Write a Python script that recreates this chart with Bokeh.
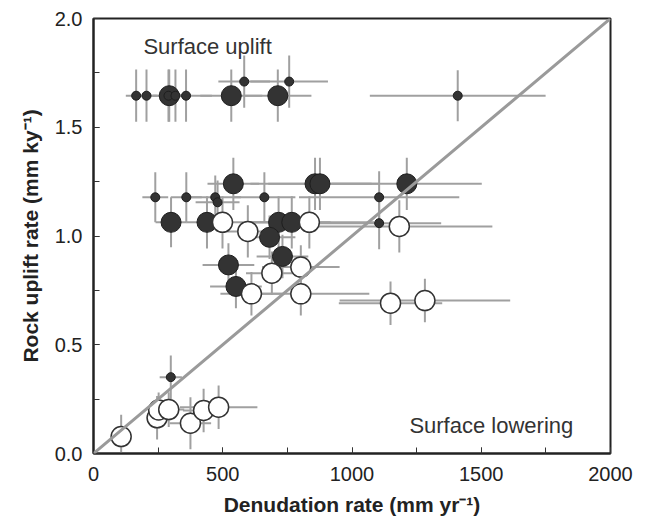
from bokeh.plotting import figure
from bokeh.models import ColumnDataSource, SingleIntervalTicker, Range1d, Label, Slope, PrintfTickFormatter
from bokeh.embed import file_html
from bokeh.resources import INLINE

# ---- data ----
# small dark points
small_x    = [165, 205, 290, 317, 358, 583, 757, 1409, 239, 359, 471, 480, 661, 1105, 1105, 299]
small_y    = [1.645, 1.645, 1.645, 1.645, 1.645, 1.71, 1.71, 1.645, 1.178, 1.178, 1.178, 1.155, 1.178, 1.178, 1.059, 0.351]
small_xerr = [40, 40, 60, 60, 100, 100, 150, 340, 50, 60, 100, 85, 120, 310, 240, 43]
small_yerr = [0.12, 0.12, 0.12, 0.12, 0.12, 0.12, 0.12, 0.117, 0.115, 0.115, 0.1, 0.1, 0.115, 0.12, 0.12, 0.1]

# large dark points
large_x    = [293, 533, 713, 541, 857, 876, 1212, 300, 439, 716, 767, 681, 522, 731, 551]
large_y    = [1.645, 1.645, 1.645, 1.24, 1.24, 1.24, 1.24, 1.063, 1.063, 1.063, 1.063, 0.994, 0.867, 0.906, 0.768]
large_xerr = [80, 120, 130, 100, 250, 200, 290, 60, 80, 120, 150, 100, 100, 100, 100]
large_yerr = [0.12, 0.12, 0.12, 0.12, 0.12, 0.12, 0.12, 0.115, 0.12, 0.12, 0.12, 0.1, 0.1, 0.1, 0.1]

# open points
open_x    = [499, 597, 835, 1183, 690, 802, 611, 802, 1149, 1282, 107, 246, 252, 291, 375, 426, 484]
open_y    = [1.063, 1.021, 1.063, 1.044, 0.829, 0.857, 0.734, 0.734, 0.691, 0.703, 0.078, 0.164, 0.2, 0.202, 0.139, 0.198, 0.213]
open_xerr = [80, 100, 250, 360, 100, 150, 120, 265, 200, 330, 40, 40, 40, 60, 80, 80, 150]
open_yerr = [0.12, 0.12, 0.12, 0.12, 0.1, 0.1, 0.1, 0.1, 0.1, 0.1, 0.1, 0.1, 0.08, 0.08, 0.12, 0.1, 0.1]

x_ticks_interval = 500
y_ticks_interval = 0.5

p = figure(width=648, height=526, output_backend="svg", toolbar_location=None,
           x_range=Range1d(0, 2000), y_range=Range1d(0, 2.0),
           min_border_left=93, min_border_right=38, min_border_top=18, min_border_bottom=73)
p.grid.visible = False
p.outline_line_color = "#222222"
p.outline_line_width = 2
p.background_fill_color = "white"
p.border_fill_color = "white"

bar_color = "#a0a0a0"

def bars(xs, ys, xe, ye):
    src = ColumnDataSource(dict(
        x=xs, y=ys,
        x0=[a - e for a, e in zip(xs, xe)], x1=[a + e for a, e in zip(xs, xe)],
        y0=[a - e for a, e in zip(ys, ye)], y1=[a + e for a, e in zip(ys, ye)]))
    p.segment(x0="x0", y0="y", x1="x1", y1="y", source=src, line_color=bar_color, line_width=2)
    p.segment(x0="x", y0="y0", x1="x", y1="y1", source=src, line_color=bar_color, line_width=2)

bars(large_x, large_y, large_xerr, large_yerr)
bars(small_x, small_y, small_xerr, small_yerr)
bars(open_x, open_y, open_xerr, open_yerr)

p.add_layout(Slope(gradient=0.001, y_intercept=0, line_color="#9a9a9a", line_width=3))

p.scatter(large_x, large_y, size=20, fill_color="#333333", line_color="#1e1e1e", line_width=1)
p.scatter(small_x, small_y, size=9, fill_color="#333333", line_color="#1e1e1e", line_width=1)
p.scatter(open_x, open_y, size=20, fill_color="white", line_color="#333333", line_width=1.5)

p.add_layout(Label(x=193, y=1.87, text="Surface uplift", text_font="Liberation Sans",
                   text_font_size="22px", text_color="#333333", text_baseline="middle"))
p.add_layout(Label(x=1222, y=0.13, text="Surface lowering", text_font="Liberation Sans",
                   text_font_size="22px", text_color="#333333", text_baseline="middle"))

for ax, interval in ((p.xaxis, x_ticks_interval), (p.yaxis, y_ticks_interval)):
    ax.ticker = SingleIntervalTicker(interval=interval, num_minor_ticks=2)
    ax.major_tick_in = 6
    ax.major_tick_out = 0
    ax.minor_tick_in = 6
    ax.minor_tick_out = 0
    ax.major_tick_line_color = "#333333"
    ax.minor_tick_line_color = "#333333"
    ax.axis_line_color = "#222222"
    ax.axis_line_width = 2
    ax.major_label_text_font = "Liberation Sans"
    ax.major_label_text_font_size = "20px"
    ax.major_label_text_color = "#222222"
    ax.axis_label_text_font = "Liberation Sans"
    ax.axis_label_text_font_size = "21px"
    ax.axis_label_text_font_style = "bold"
    ax.axis_label_text_color = "#222222"

p.xaxis.axis_label = "Denudation rate (mm yr\u207b\u00b9)"
p.yaxis.axis_label = "Rock uplift rate (mm ky\u207b\u00b9)"
p.yaxis.formatter = PrintfTickFormatter(format="%.1f")
p.xaxis.major_label_standoff = 13
p.xaxis.axis_label_standoff = 9
p.yaxis.major_label_standoff = 11
p.yaxis.axis_label_standoff = 10

open("out.html", "w").write(file_html(p, INLINE))
